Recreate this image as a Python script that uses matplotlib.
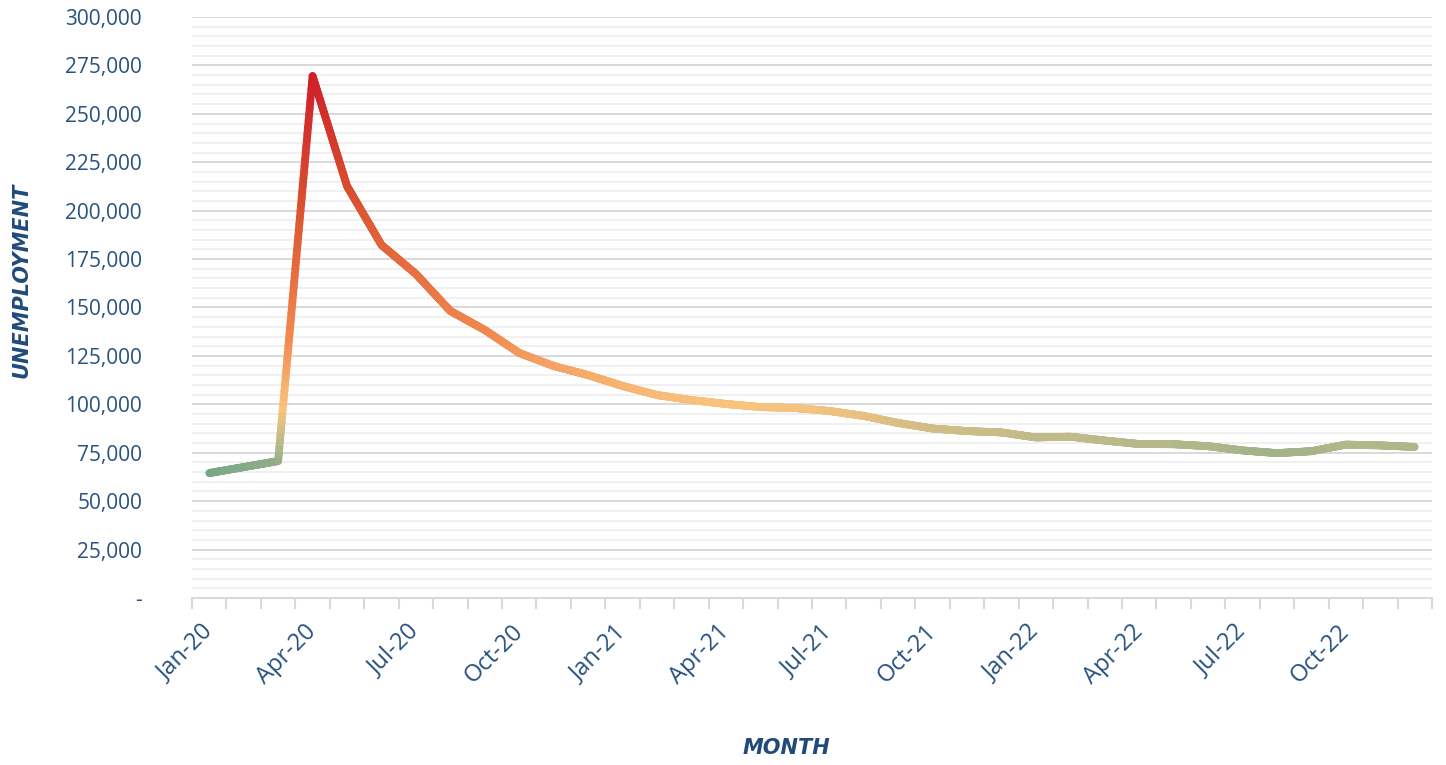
import numpy as np
import matplotlib
matplotlib.use("Agg")
import matplotlib.pyplot as plt
from matplotlib.collections import LineCollection
from matplotlib.colors import LinearSegmentedColormap
from matplotlib.ticker import FuncFormatter, MultipleLocator
from matplotlib import font_manager

# Data
months = ['Jan-20', 'Feb-20', 'Mar-20', 'Apr-20', 'May-20', 'Jun-20',
          'Jul-20', 'Aug-20', 'Sep-20', 'Oct-20', 'Nov-20', 'Dec-20',
          'Jan-21', 'Feb-21', 'Mar-21', 'Apr-21', 'May-21', 'Jun-21',
          'Jul-21', 'Aug-21', 'Sep-21', 'Oct-21', 'Nov-21', 'Dec-21',
          'Jan-22', 'Feb-22', 'Mar-22', 'Apr-22', 'May-22', 'Jun-22',
          'Jul-22', 'Aug-22', 'Sep-22', 'Oct-22', 'Nov-22', 'Dec-22']
unemployment = [64500, 67600, 70700, 269500, 212700, 182300,
                167300, 148200, 138400, 126500, 119800, 115100,
                109500, 104800, 102200, 100200, 98600, 98100,
                96600, 94000, 90400, 87500, 86200, 85500,
                82900, 83300, 81300, 79500, 79400, 78400,
                76200, 74800, 75800, 79200, 78800, 78000]

label_color = '#28527F'
title_color = '#1F4A7A'

# narrow font for the axis titles, if there is one
names = {f.name for f in font_manager.fontManager.ttflist}
narrow = [n for n in ['Liberation Sans Narrow', 'DejaVu Sans Condensed'] if n in names]
title_family = narrow + ['DejaVu Sans']
title_size = 19 if narrow else 15

fig = plt.figure(figsize=(14.46, 7.65), dpi=100)
ax = fig.add_axes([0.1328, 0.2183, 0.8575, 0.7595])

x = np.arange(len(months))
y = np.array(unemployment, dtype=float)

# split each segment into small pieces so the colour can follow the value
xs, ys = [], []
for i in range(len(x) - 1):
    t = np.linspace(0, 1, 60, endpoint=False)
    xs.append(x[i] + t * (x[i + 1] - x[i]))
    ys.append(y[i] + t * (y[i + 1] - y[i]))
xs.append([x[-1]])
ys.append([y[-1]])
xs = np.concatenate(xs)
ys = np.concatenate(ys)
pts = np.column_stack([xs, ys]).reshape(-1, 1, 2)
segs = np.concatenate([pts[:-1], pts[1:]], axis=1)

cmap = LinearSegmentedColormap.from_list('unemp', [
    (0.0, '#77A786'), (0.08, '#BAB98A'), (0.17, '#F9C47E'),
    (0.35, '#F2884F'), (0.7, '#DA4E2E'), (1.0, '#CF1F2A')])
mid = (ys[:-1] + ys[1:]) / 2
lc = LineCollection(segs, cmap=cmap, norm=plt.Normalize(64000, 270000),
                    linewidths=5.6, capstyle='round', joinstyle='round', zorder=3)
lc.set_array(mid)
ax.add_collection(lc)

ax.set_xlim(-0.5, len(months) - 0.5)
ax.set_ylim(0, 300000)

# y axis
ax.yaxis.set_major_locator(MultipleLocator(25000))
ax.yaxis.set_minor_locator(MultipleLocator(5000))
ax.yaxis.set_major_formatter(FuncFormatter(lambda v, p: '-' if v == 0 else f'{int(v):,}'))
ax.grid(True, axis='y', which='major', color='#D9D9D9', lw=1.4, zorder=0)
ax.grid(True, axis='y', which='minor', color='#F0F0F0', lw=1.4, zorder=0)
ax.tick_params(axis='y', which='both', length=0, pad=36, labelsize=15, labelcolor=label_color)

# x axis: tick marks at category borders, labels every 3 months
ax.set_xticks(np.arange(-0.5, len(months), 1))
ax.set_xticklabels([])
ax.set_xticks(x[::3], minor=True)
ax.set_xticklabels(months[::3], minor=True, rotation=45, ha='right', va='center',
                   rotation_mode='anchor', fontsize=17, color=label_color)
ax.tick_params(axis='x', which='major', length=8, width=1.5, color='#D9D9D9')
ax.tick_params(axis='x', which='minor', length=0, pad=22)

for s in ['top', 'right', 'left']:
    ax.spines[s].set_visible(False)
ax.spines['bottom'].set_color('#D9D9D9')
ax.spines['bottom'].set_linewidth(1.5)

for lab in ax.get_xticklabels(minor=True) + ax.get_yticklabels():
    lab.set_family(['Open Sans', 'DejaVu Sans'])

fig.text(22 / 1446, 1 - 280 / 765, 'UNEMPLOYMENT', family=title_family, rotation=90,
         fontsize=title_size, fontweight='bold', style='italic', color=title_color,
         ha='center', va='center')
fig.text(786 / 1446, 1 - 748 / 765, 'MONTH', family=title_family,
         fontsize=title_size, fontweight='bold', style='italic', color=title_color,
         ha='center', va='center')

fig.savefig('out.png', dpi=100)
